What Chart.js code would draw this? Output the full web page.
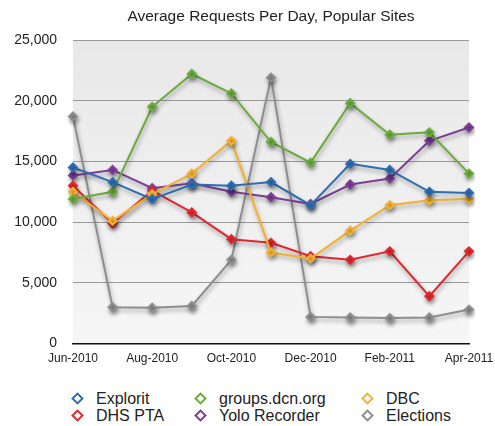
<!DOCTYPE html>
<html lang="en">
<head>
  <meta charset="UTF-8" />
  <title>Average Requests Per Day, Popular Sites</title>
  <script src="https://cdn.jsdelivr.net/npm/chart.js"></script>
  <style>
    body { margin: 0; background: #fff; font-family: "Liberation Sans", Arial, sans-serif; }
    #wrap { position: relative; width: 495px; height: 426px; }
    #box { position: absolute; left: 0; top: 0; width: 495px; height: 368px; }
    #legend {
      position: absolute; left: 0; top: 391px; width: 495px;
      font-size: 16px; color: #222; line-height: 16px;
    }
    .item { position: absolute; white-space: nowrap; }
    .mark {
      position: absolute; width: 5px; height: 5px; border: 2px solid #000;
      background: #fff; transform: rotate(45deg); top: 3px;
    }
  </style>
</head>
<body>
<div id="wrap">
  <div id="box"><canvas id="grafico"></canvas></div>
  <div id="legend"></div>
</div>
<script>
const months = ['Jun-2010', 'Jul-2010', 'Aug-2010', 'Sep-2010', 'Oct-2010', 'Nov-2010',
                'Dec-2010', 'Jan-2011', 'Feb-2011', 'Mar-2011', 'Apr-2011'];
const explorit  = [14500, 13300, 11900, 13100, 13000, 13300, 11400, 14800, 14300, 12500, 12400];
const groupsDcn = [11900, 12500, 19500, 22200, 20600, 16600, 14900, 19800, 17200, 17400, 14000];
const dbc       = [12500, 10100, 12300, 14000, 16700, 7500, 7000, 9300, 11400, 11800, 11900];
const dhsPta    = [13000, 9900, 12600, 10800, 8600, 8300, 7200, 6900, 7600, 3900, 7600];
const yolo      = [13850, 14300, 12800, 13200, 12500, 12050, 11500, 13100, 13600, 16700, 17800];
const elections = [18700, 3000, 2950, 3100, 6900, 21900, 2200, 2150, 2100, 2150, 2800];
const names  = ['Explorit', 'groups.dcn.org', 'DBC', 'DHS PTA', 'Yolo Recorder', 'Elections'];
const colors = ['#2f6db3', '#6aab3c', '#f5b12e', '#de2a2f', '#7b3f97', '#8e8e8e'];
const series = [explorit, groupsDcn, dbc, dhsPta, yolo, elections];
const chartTitle = 'Average Requests Per Day, Popular Sites';

// legend laid out in three columns like the original
const legendPos = [[73, 0], [196, 0], [363, 0], [73, 17], [196, 17], [363, 17]];
const leg = document.getElementById('legend');
names.forEach((n, i) => {
  const it = document.createElement('div');
  it.className = 'item';
  it.style.left = legendPos[i][0] + 'px';
  it.style.top = legendPos[i][1] + 'px';
  it.innerHTML = '<span class="mark" style="border-color:' + colors[i] + '"></span>' +
                 '<span style="margin-left:23px">' + n + '</span>';
  leg.appendChild(it);
});

const plotBg = {
  id: 'plotBg',
  beforeDraw(chart) {
    const { ctx, chartArea: a } = chart;
    const g = ctx.createLinearGradient(0, a.top, 0, a.bottom);
    g.addColorStop(0, '#e8e8e8');
    g.addColorStop(1, '#f6f6f6');
    ctx.save();
    ctx.fillStyle = g;
    ctx.fillRect(a.left, a.top, a.right - a.left, a.bottom - a.top);
    // title centred over the plot area
    ctx.fillStyle = '#222';
    ctx.font = '15.5px "Liberation Sans", Arial';
    ctx.textAlign = 'center';
    ctx.textBaseline = 'middle';
    ctx.fillText(chartTitle, (a.left + a.right) / 2, 17);
    ctx.restore();
  },
  beforeDatasetsDraw(chart) {
    const ctx = chart.ctx;
    ctx.save();
    ctx.shadowColor = 'rgba(0,0,0,0.35)';
    ctx.shadowBlur = 4;
    ctx.shadowOffsetX = 1;
    ctx.shadowOffsetY = 3;
  },
  afterDatasetsDraw(chart) {
    chart.ctx.restore();
  }
};

new Chart(document.getElementById('grafico'), {
  type: 'line',
  data: {
    labels: months,
    datasets: series.map((d, i) => ({
      label: names[i], data: d, borderColor: colors[i], backgroundColor: colors[i],
      borderWidth: 2, pointStyle: 'rectRot', pointRadius: 4, tension: 0
    }))
  },
  options: {
    responsive: true, maintainAspectRatio: false, animation: false,
    layout: { padding: { left: 0, right: 26, top: 40, bottom: 0 } },
    plugins: {
      legend: { display: false },
      tooltip: { enabled: false },
      title: { display: false }
    },
    scales: {
      x: {
        offset: false,
        grid: { display: false },
        border: { color: '#111', width: 1.5 },
        ticks: {
          color: '#222', font: { size: 12, family: '"Liberation Sans", Arial' },
          maxRotation: 0, autoSkip: false, padding: 0,
          callback: (v, i) => i % 2 === 0 ? months[i] : ''
        }
      },
      y: {
        min: 0, max: 25000,
        afterFit: s => { s.width = 73; },
        grid: { color: '#9a9a9a', drawTicks: false },
        border: { display: false },
        ticks: {
          stepSize: 5000, color: '#222', padding: 16,
          font: { size: 14, family: '"Liberation Sans", Arial' },
          callback: v => v.toLocaleString('en-US')
        }
      }
    }
  },
  plugins: [plotBg]
});
</script>
</body>
</html>
